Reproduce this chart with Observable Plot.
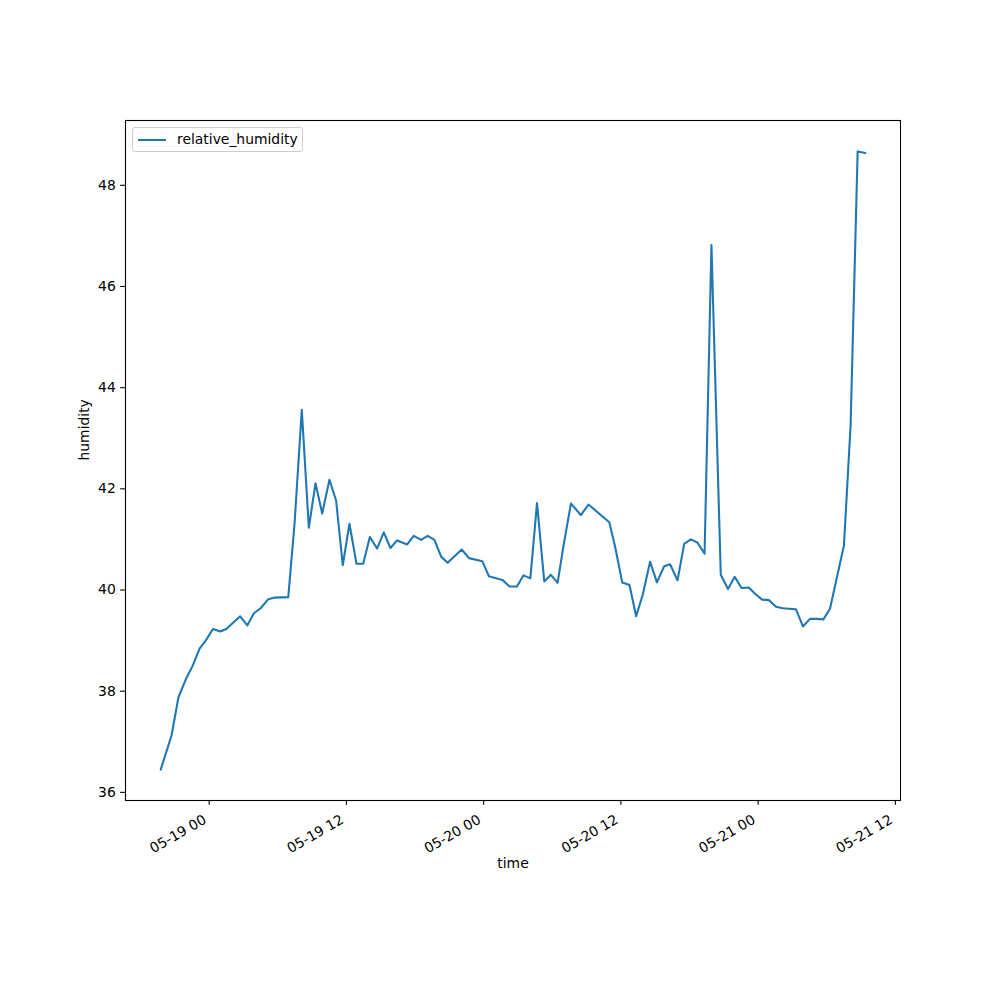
<!DOCTYPE html>
<html>
<head>
<meta charset="utf-8">
<script src="https://cdn.jsdelivr.net/npm/d3@7"></script>
<script src="https://cdn.jsdelivr.net/npm/@observablehq/plot@0.6"></script>
<style>
  body { margin: 0; background: white; }
  #wrap { position: relative; width: 1000px; height: 1000px; font-family: "DejaVu Sans", sans-serif; }
  #legend { position: absolute; left: 132px; top: 127px; width: 171px; height: 25px; box-sizing: border-box;
    border: 1px solid #cccccc; border-radius: 3px; background: rgba(255,255,255,0.8);
    font-size: 13.9px; color: black; }
  #legend .sw { position: absolute; left: 5px; top: 11px; width: 28px; height: 0; border-top: 2.08px solid #1f77b4; }
  #legend .lb { position: absolute; left: 44px; top: 3px; white-space: nowrap; }
</style>
</head>
<body>
<div id="wrap"><div id="legend"><div class="sw"></div><div class="lb">relative_humidity</div></div></div>
<script>
const times = [
  "2024-05-18T19:46","2024-05-18T20:43","2024-05-18T21:19","2024-05-18T21:57","2024-05-18T22:32","2024-05-18T23:10","2024-05-18T23:42",
  "2024-05-19T00:20","2024-05-19T00:59","2024-05-19T01:30","2024-05-19T02:43","2024-05-19T03:20","2024-05-19T03:55","2024-05-19T04:30",
  "2024-05-19T05:08","2024-05-19T05:43","2024-05-19T06:55","2024-05-19T07:28","2024-05-19T08:06","2024-05-19T08:43","2024-05-19T09:18",
  "2024-05-19T09:53","2024-05-19T10:31","2024-05-19T11:06","2024-05-19T11:41","2024-05-19T12:16","2024-05-19T12:53","2024-05-19T13:28",
  "2024-05-19T14:03","2024-05-19T14:41","2024-05-19T15:16","2024-05-19T15:51","2024-05-19T16:26","2024-05-19T17:19","2024-05-19T17:53",
  "2024-05-19T18:32","2024-05-19T19:06","2024-05-19T19:42","2024-05-19T20:17","2024-05-19T20:51","2024-05-19T22:05","2024-05-19T22:43",
  "2024-05-19T23:53","2024-05-20T00:28","2024-05-20T01:38","2024-05-20T02:16","2024-05-20T02:55","2024-05-20T03:29","2024-05-20T04:05",
  "2024-05-20T04:40","2024-05-20T05:18","2024-05-20T05:53","2024-05-20T06:28","2024-05-20T07:00","2024-05-20T07:38","2024-05-20T08:30",
  "2024-05-20T09:10","2024-05-20T10:59","2024-05-20T11:30","2024-05-20T12:07","2024-05-20T12:45","2024-05-20T13:20","2024-05-20T13:55",
  "2024-05-20T14:33","2024-05-20T15:09","2024-05-20T15:47","2024-05-20T16:18","2024-05-20T16:57","2024-05-20T17:32","2024-05-20T18:07",
  "2024-05-20T18:41","2024-05-20T19:19","2024-05-20T19:55","2024-05-20T20:44","2024-05-20T21:22","2024-05-20T21:57","2024-05-20T22:33",
  "2024-05-20T23:11","2024-05-20T23:45","2024-05-21T00:21","2024-05-21T00:56","2024-05-21T01:34","2024-05-21T02:09","2024-05-21T02:43",
  "2024-05-21T03:18","2024-05-21T03:55","2024-05-21T04:32","2024-05-21T05:07","2024-05-21T05:42","2024-05-21T06:17","2024-05-21T07:30",
  "2024-05-21T08:05","2024-05-21T08:42","2024-05-21T09:22"
];
const humidity = [
  36.45,37.13,37.88,38.23,38.49,38.84,39.00,
  39.23,39.18,39.23,39.48,39.30,39.54,39.64,
  39.81,39.85,39.86,41.31,43.56,41.23,42.11,
  41.51,42.18,41.77,40.49,41.31,40.52,40.52,
  41.05,40.82,41.14,40.83,40.98,40.90,41.07,
  40.99,41.07,40.99,40.66,40.54,40.80,40.63,
  40.57,40.27,40.20,40.07,40.07,40.29,40.23,
  41.72,40.17,40.30,40.14,40.90,41.71,41.48,
  41.69,41.34,40.85,40.15,40.10,39.48,39.91,
  40.56,40.15,40.47,40.51,40.19,40.91,41.00,
  40.94,40.72,46.82,40.30,40.02,40.26,40.04,
  40.05,39.92,39.81,39.80,39.67,39.64,39.63,
  39.62,39.28,39.43,39.43,39.42,39.63,40.88,
  43.25,48.67,48.64
];
const yTicks = [36, 38, 40, 42, 44, 46, 48];
const xTickLabels = ["2024-05-19T00:00","2024-05-19T12:00","2024-05-20T00:00","2024-05-20T12:00","2024-05-21T00:00","2024-05-21T12:00"];

const data = times.map((t, i) => ({time: new Date(t + "Z"), value: humidity[i]}));
const xTicks = xTickLabels.map(t => new Date(t + "Z"));
const fmt = d3.utcFormat("%m-%d %H");

// matplotlib-like 5% margins
const [t0, t1] = d3.extent(data, d => +d.time);
const [v0, v1] = d3.extent(data, d => d.value);
const tm = (t1 - t0) * 0.05, vm = (v1 - v0) * 0.05;

const chart = Plot.plot({
  width: 1000,
  height: 1000,
  marginLeft: 125,
  marginRight: 100,
  marginTop: 120,
  marginBottom: 200,
  style: {fontFamily: "DejaVu Sans", fontSize: "13.9px", background: "transparent", color: "black", overflow: "visible"},
  x: {type: "utc", domain: [new Date(t0 - tm), new Date(t1 + tm)]},
  y: {domain: [v0 - vm, v1 + vm]},
  marks: [
    Plot.line(data, {x: "time", y: "value", stroke: "#1f77b4", strokeWidth: 2.08}),
    Plot.frame({stroke: "black", strokeWidth: 1.1}),
    Plot.axisY({ticks: yTicks, tickSize: 4.86, tickPadding: 4.9, label: null, tickFormat: d => String(d), strokeWidth: 1.1, fontSize: 13.9}),
    Plot.axisX({ticks: xTicks, tickSize: 4.86, label: null, tickFormat: () => "", strokeWidth: 1.1}),
    Plot.text(xTicks, {x: d => d, text: d => fmt(d), frameAnchor: "bottom", dx: -4, dy: 18,
      textAnchor: "end", lineAnchor: "middle", rotate: -30, fontSize: 13.9, fill: "black"}),
    Plot.text(["humidity"], {frameAnchor: "left", dx: -41, rotate: -90, fontSize: 13.9, fill: "black"}),
    Plot.text(["time"], {frameAnchor: "bottom", dy: 67, fontSize: 13.9, fill: "black"})
  ]
});
document.getElementById("wrap").prepend(chart);
chart.style.position = "absolute";
chart.style.left = "0px";
chart.style.top = "0px";
</script>
</body>
</html>
